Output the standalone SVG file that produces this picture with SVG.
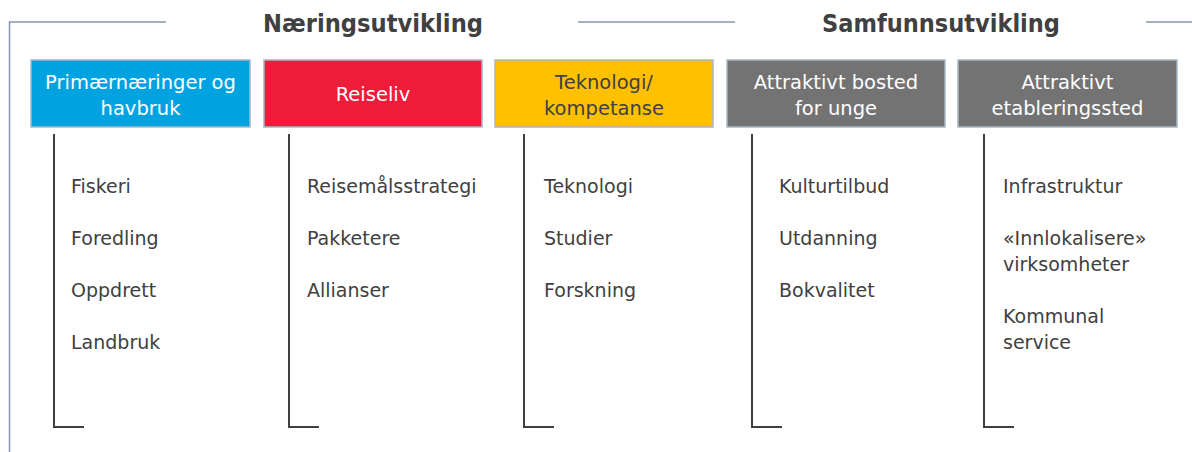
<svg xmlns="http://www.w3.org/2000/svg" width="1192" height="452" viewBox="0 0 1192 452">
<style>
.frame{fill:none;stroke:#8497B0;stroke-width:1.5}
.box{stroke:#A9B7C8;stroke-width:1.5}
.br{fill:none;stroke:#404040;stroke-width:2}
.h{font-family:"DejaVu Sans",sans-serif;font-weight:bold;font-size:24px;fill:#404040;text-anchor:middle}
.bt{font-family:"DejaVu Sans",sans-serif;font-size:19.5px;fill:#FFFFFF;text-anchor:middle}
.it{font-family:"DejaVu Sans",sans-serif;font-size:19px;fill:#404040}
</style>
<rect width="1192" height="452" fill="#FFFFFF"/>
<g id="frame">
<polyline class="frame" points="166,22 9.5,22 9.5,452"/>
<line class="frame" x1="578" y1="22" x2="735" y2="22"/>
<line class="frame" x1="1146" y1="22" x2="1192" y2="22"/>
<text class="h" x="373" y="32" textLength="220" lengthAdjust="spacingAndGlyphs">Næringsutvikling</text>
<text class="h" x="941" y="32" textLength="238" lengthAdjust="spacingAndGlyphs">Samfunnsutvikling</text>
</g>
<g id="connectors">
<polyline class="br" points="54,134 54,427 84,427"/>
<polyline class="br" points="289,134 289,427 319,427"/>
<polyline class="br" points="524,134 524,427 554,427"/>
<polyline class="br" points="752,134 752,427 782,427"/>
<polyline class="br" points="984,134 984,427 1014,427"/>
</g>
<g id="node-primaer">
<rect class="box" x="31" y="60" width="219" height="67" fill="#00A3E0"/>
<text class="bt" x="140.5" y="89">Primærnæringer og</text>
<text class="bt" x="140.5" y="115">havbruk</text>
<text class="it" x="71" y="193">Fiskeri</text>
<text class="it" x="71" y="245">Foredling</text>
<text class="it" x="71" y="297">Oppdrett</text>
<text class="it" x="71" y="349">Landbruk</text>
</g>
<g id="node-reiseliv">
<rect class="box" x="264" y="60" width="218" height="67" fill="#EE1B3B"/>
<text class="bt" x="373" y="101">Reiseliv</text>
<text class="it" x="307" y="193">Reisemålsstrategi</text>
<text class="it" x="307" y="245">Pakketere</text>
<text class="it" x="307" y="297">Allianser</text>
</g>
<g id="node-teknologi">
<rect class="box" x="495" y="60" width="218" height="67" fill="#FFC000"/>
<text class="bt" x="604" y="89" style="fill:#404040">Teknologi/</text>
<text class="bt" x="604" y="115" style="fill:#404040">kompetanse</text>
<text class="it" x="544" y="193">Teknologi</text>
<text class="it" x="544" y="245">Studier</text>
<text class="it" x="544" y="297">Forskning</text>
</g>
<g id="node-bosted">
<rect class="box" x="727" y="60" width="218" height="67" fill="#737373"/>
<text class="bt" x="836" y="89">Attraktivt bosted</text>
<text class="bt" x="836" y="115">for unge</text>
<text class="it" x="779" y="193">Kulturtilbud</text>
<text class="it" x="779" y="245">Utdanning</text>
<text class="it" x="779" y="297">Bokvalitet</text>
</g>
<g id="node-etablering">
<rect class="box" x="958" y="60" width="219" height="67" fill="#737373"/>
<text class="bt" x="1067.5" y="89">Attraktivt</text>
<text class="bt" x="1067.5" y="115">etableringssted</text>
<text class="it" x="1003" y="193">Infrastruktur</text>
<text class="it" x="1003" y="245">«Innlokalisere»</text>
<text class="it" x="1003" y="271">virksomheter</text>
<text class="it" x="1003" y="323">Kommunal</text>
<text class="it" x="1003" y="349">service</text>
</g>
</svg>
